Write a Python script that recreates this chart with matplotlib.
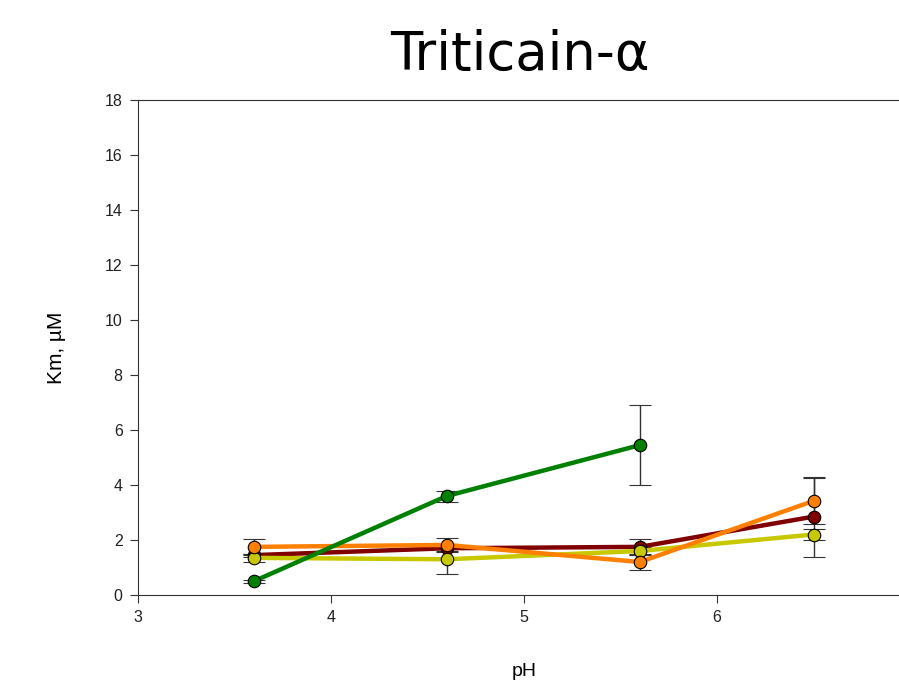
import matplotlib
matplotlib.use("Agg")
import matplotlib.pyplot as plt

ph = [3.6, 4.6, 5.6, 6.5]

green_km = [0.5, 3.6, 5.45]
green_err = [0.05, 0.2, 1.45]

darkred_km = [1.45, 1.7, 1.75, 2.85]
darkred_err = [0.05, 0.1, 0.3, 1.45]

yellow_km = [1.35, 1.3, 1.6, 2.2]
yellow_err = [0.15, 0.55, 0.15, 0.2]

orange_km = [1.75, 1.82, 1.2, 3.42]
orange_err = [0.3, 0.25, 0.3, 0.85]

series = [
    (ph, darkred_km, darkred_err, "#800000"),
    (ph, yellow_km, yellow_err, "#c8c800"),
    (ph, orange_km, orange_err, "#ff8000"),
    (ph[:3], green_km, green_err, "#008000"),
]


def main() -> None:
    fig = plt.figure(figsize=(8.99, 6.87), dpi=100)
    ax = fig.add_axes([138 / 899, 92 / 687, 772 / 899, 495 / 687])

    for x, y, err, color in series:
        ax.errorbar(x, y, yerr=err, color=color, lw=3.2, marker="o", ms=9,
                    mfc=color, mec="black", mew=0.8, ecolor="#333333",
                    elinewidth=1, capsize=8, capthick=1)

    ax.set_xlim(3, 7)
    ax.set_ylim(0, 18)
    ax.set_xticks([3, 4, 5, 6])
    ax.set_yticks(range(0, 19, 2))
    ax.spines["right"].set_visible(False)
    for s in ax.spines.values():
        s.set_color("#333333")
    ax.tick_params(direction="out", length=6, labelsize=11.5, colors="#333333",
                   labelcolor="#222222", pad=5)
    for lab in ax.get_xticklabels() + ax.get_yticklabels():
        lab.set_family("Liberation Sans")

    ax.set_xlabel("pH", fontsize=14, family="Liberation Sans", labelpad=27)
    ax.set_ylabel("Km, µM", fontsize=15, family="Liberation Sans", labelpad=28)
    fig.text(520 / 899, 1 - 55 / 687, "Triticain-α", fontsize=38,
             ha="center", va="center")

    fig.savefig("out.png", dpi=100)


if __name__ == "__main__":
    main()
